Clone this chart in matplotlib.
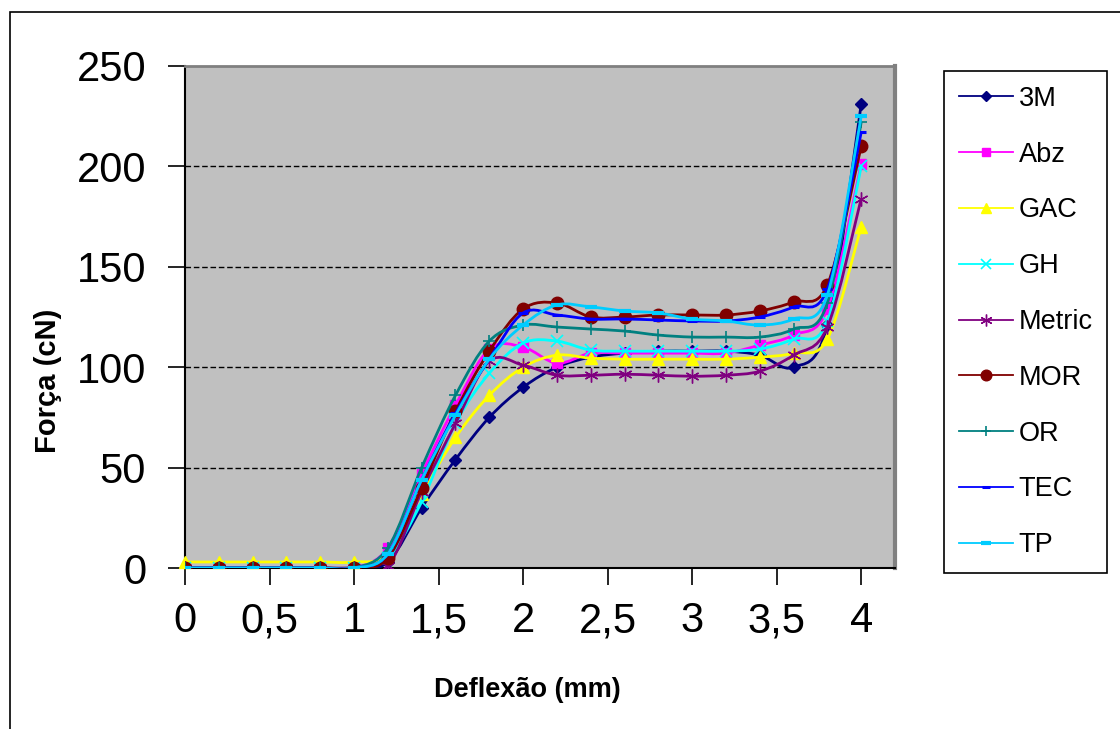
import matplotlib
matplotlib.use('Agg')
import matplotlib.pyplot as plt
from matplotlib.path import Path
from matplotlib.patches import PathPatch, Rectangle
from matplotlib.lines import Line2D
import numpy as np

plt.rcParams['font.family'] = ['Liberation Sans', 'DejaVu Sans']

# dados
deflexao = [0, 0.2, 0.4, 0.6, 0.8, 1.0, 1.2, 1.4, 1.6, 1.8, 2.0,
            2.2, 2.4, 2.6, 2.8, 3.0, 3.2, 3.4, 3.6, 3.8, 4.0]
f_3m     = [0, 0, 0, 0, 0, 0, 3, 30, 54, 75, 90, 100, 105, 107, 108, 108, 108, 106, 100, 121, 231]
f_abz    = [0, 0, 0, 0, 0, 0, 10, 47, 81, 109, 110, 102, 107, 107, 107, 107, 107, 111, 116, 129, 201]
f_gac    = [3, 3, 3, 3, 3, 3, 7, 37, 65, 86, 100, 106, 104.5, 104, 104, 104, 104, 105, 107, 114, 170]
f_gh     = [0, 0, 0, 0, 0, 0, 5, 33, 72, 97, 112, 113, 108.5, 108, 108, 108, 108, 109, 114, 123, 200]
f_metric = [0, 0, 0, 0, 0, 0, 1, 38, 72, 103, 101, 96, 96, 96.5, 96, 95.5, 96, 98, 106, 120, 184]
f_mor    = [0, 0, 0, 0, 0, 0, 5, 40, 78, 108, 129, 132, 125, 125, 126, 126, 126, 128, 132.5, 141, 210]
f_or     = [0, 0, 0, 0, 0, 0, 10, 50, 86, 113, 121, 120, 119, 118, 116, 115, 115, 115, 119, 132, 222]
f_tec    = [0, 0, 0, 0, 0, 0, 7, 44, 77, 104, 127, 126, 124, 124, 123.5, 123, 123, 125, 130, 139, 217]
f_tp     = [0, 0, 0, 0, 0, 0, 7, 44, 76, 104, 121, 131, 130, 128, 127, 124, 123, 121, 124, 136, 225]

nomes = ['3M', 'Abz', 'GAC', 'GH', 'Metric', 'MOR', 'OR', 'TEC', 'TP']
valores = [f_3m, f_abz, f_gac, f_gh, f_metric, f_mor, f_or, f_tec, f_tp]
cores = ['#000080', '#FF00FF', '#FFFF00', '#00FFFF', '#800080',
         '#800000', '#008080', '#0000FF', '#00CCFF']
marcas = ['D', 's', '^', 'x', (6, 2, 0), 'o', '+', '_', '_']
tam = [6.5, 7, 9, 8, 10, 9, 9, 7, 9]
mew = [1, 1, 1, 1.2, 1, 1, 1.2, 2.2, 3]

x_ticks = [0, 0.5, 1, 1.5, 2, 2.5, 3, 3.5, 4]
x_labels = ['0', '0,5', '1', '1,5', '2', '2,5', '3', '3,5', '4']
y_ticks = [0, 50, 100, 150, 200, 250]


def curva_suave(x, y):
    # linha suavizada tipo Excel (Catmull-Rom -> Bezier)
    pts = np.column_stack([x, y]).astype(float)
    n = len(pts)
    verts = [pts[0]]
    codes = [Path.MOVETO]
    for i in range(n - 1):
        p0 = pts[max(i - 1, 0)]
        p1 = pts[i]
        p2 = pts[i + 1]
        p3 = pts[min(i + 2, n - 1)]
        verts += [p1 + (p2 - p0) / 6, p2 - (p3 - p1) / 6, p2]
        codes += [Path.CURVE4] * 3
    return Path(verts, codes)


fig = plt.figure(figsize=(11.2, 7.29), dpi=100)
ax = fig.add_axes([185 / 1120, 161 / 729, 710 / 1120, 502 / 729])
ax.set_facecolor('#C0C0C0')

for i in range(len(nomes)):
    pp = PathPatch(curva_suave(deflexao, valores[i]), fill=False,
                   edgecolor=cores[i], lw=2.0, zorder=3 + i * 0.1)
    ax.add_patch(pp)
    ax.plot(deflexao, valores[i], linestyle='none', marker=marcas[i],
            ms=tam[i], mew=mew[i], color=cores[i], mec=cores[i],
            zorder=3 + i * 0.1 + 0.05, clip_on=(nomes[i] != 'GAC'))

ax.set_xlim(0, 4.2)
ax.set_ylim(0, 250)
ax.set_xticks(x_ticks)
ax.set_xticklabels(x_labels)
ax.set_yticks(y_ticks)
ax.tick_params(axis='both', labelsize=30, length=12, width=1.2, direction='out', pad=12)
ax.tick_params(axis='y', pad=16)

for y in y_ticks[1:-1]:
    ax.axhline(y, color='black', lw=1, ls=(0, (4, 2)), zorder=1)

ax.spines['left'].set_color('black')
ax.spines['bottom'].set_color('black')
ax.spines['left'].set_linewidth(1.5)
ax.spines['bottom'].set_linewidth(1.5)
ax.spines['top'].set_color('#808080')
ax.spines['right'].set_color('#808080')
ax.spines['top'].set_linewidth(2)
ax.spines['right'].set_linewidth(3)

fig.text(527 / 1120, 1 - 690 / 729, 'Deflexão (mm)', fontsize=19.5, fontweight='bold',
         ha='center', va='center')
fig.text(48 / 1120, 1 - 381 / 729, 'Força (cN)', fontsize=21, fontweight='bold',
         ha='center', va='center', rotation=90)

# moldura externa
fig.patches.append(Rectangle((10 / 1120, -0.1), 1.2, 1.1 - 12 / 729,
                             transform=fig.transFigure, fill=False,
                             ec='black', lw=1.2))

handles = [Line2D([], [], color=cores[i], lw=1.3, marker=marcas[i],
                  ms=tam[i] * 0.85, mew=mew[i], mec=cores[i])
           for i in range(len(nomes))]
leg = fig.legend(handles, nomes, loc='upper left',
                 bbox_to_anchor=(944 / 1120, 1 - 71 / 729),
                 frameon=True, fancybox=False, edgecolor='black', framealpha=1,
                 fontsize=19.5, handlelength=2.0, handletextpad=0.2,
                 labelspacing=1.1, borderpad=0.55, borderaxespad=0)
leg.get_frame().set_linewidth(1.2)

fig.savefig('out.png', dpi=100)
